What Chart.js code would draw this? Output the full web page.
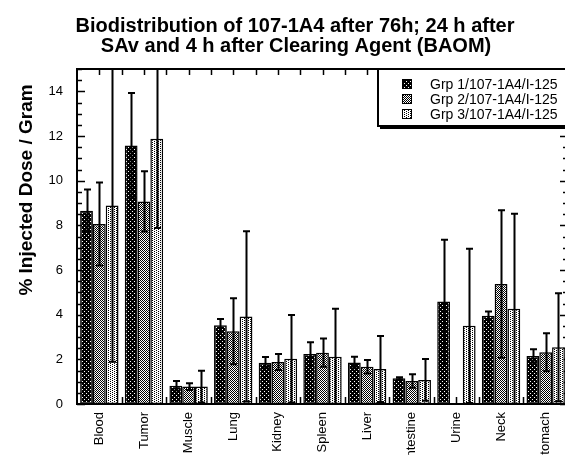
<!DOCTYPE html>
<html>
<head>
<meta charset="utf-8">
<script src="https://cdn.jsdelivr.net/npm/chart.js@4.4.1/dist/chart.umd.min.js"></script>
<style>
  html, body { margin: 0; padding: 0; background: #fff; overflow: hidden; }
  .wrap { width: 565px; height: 455px; overflow: hidden; }
  canvas { display: block; }
</style>
</head>
<body>
<div class="wrap"><canvas id="chart" width="572" height="455"></canvas></div>
<script>
// Chart data
const titleLines = ['Biodistribution of 107-1A4 after 76h; 24 h after', 'SAv and 4 h after Clearing Agent (BAOM)'];
const yTitle = '% Injected Dose / Gram';
const organs = ['Blood', 'Tumor', 'Muscle', 'Lung', 'Kidney', 'Spleen', 'Liver', 'Intestine', 'Urine', 'Neck', 'Stomach'];
const yTicks = [0, 2, 4, 6, 8, 10, 12, 14];
const groupNames = ['Grp 1/107-1A4/I-125', 'Grp 2/107-1A4/I-125', 'Grp 3/107-1A4/I-125'];

const grp1    = [8.65, 11.57, 0.82, 3.53, 1.85, 2.24, 1.86, 1.15, 4.59, 3.95, 2.15];
const grp1Err = [0.95, 2.36, 0.21, 0.28, 0.25, 0.53, 0.26, 0.05, 2.76, 0.19, 0.30];
const grp2    = [8.06, 9.07, 0.78, 3.26, 1.88, 2.30, 1.67, 1.03, null, 5.37, 2.32];
const grp2Err = [1.86, 1.35, 0.15, 1.48, 0.36, 0.63, 0.30, 0.30, null, 3.30, 0.85];
const grp3    = [8.89, 11.88, 0.78, 3.92, 2.03, 2.12, 1.57, 1.08, 3.50, 4.26, 2.54];
const grp3Err = [7.00, 4.00, 0.71, 3.81, 1.96, 2.14, 1.48, 0.94, 3.45, 4.26, 2.42];

const FONT = '"Liberation Sans", Arial, Helvetica, sans-serif';
Chart.defaults.font.family = FONT;
Chart.defaults.color = '#000';

const canvas = document.getElementById('chart');
const mainCtx = canvas.getContext('2d');

// small bitmap tiles for the stipple fills
function makePattern(rows) {
  const tile = document.createElement('canvas');
  tile.width = rows[0].length;
  tile.height = rows.length;
  const g = tile.getContext('2d');
  g.fillStyle = '#fff';
  g.fillRect(0, 0, tile.width, tile.height);
  g.fillStyle = '#000';
  rows.forEach((r, y) => {
    [...r].forEach((ch, x) => { if (ch === '1') g.fillRect(x, y, 1, 1); });
  });
  return mainCtx.createPattern(tile, 'repeat');
}

const fills = [
  makePattern(['1111', '1101', '1111', '0111']),
  makePattern(['10', '01']),
  makePattern(['1000', '0010'])
];

// error bars drawn on top of the bars, clipped to the plot
const errorBars = {
  id: 'errorBars',
  afterDatasetsDraw(chart) {
    const { ctx, chartArea: a, scales: { y } } = chart;
    ctx.save();
    ctx.beginPath();
    ctx.rect(a.left, a.top, a.right - a.left, a.bottom - a.top);
    ctx.clip();
    ctx.strokeStyle = '#000';
    ctx.lineWidth = 2;
    chart.data.datasets.forEach((ds, i) => {
      const meta = chart.getDatasetMeta(i);
      meta.data.forEach((bar, j) => {
        const v = ds.data[j], e = ds.errors[j];
        if (v == null || e == null) return;
        const x = Math.round(bar.x) + 0.5;
        const hi = y.getPixelForValue(v + e);
        const lo = y.getPixelForValue(Math.max(v - e, 0));
        ctx.beginPath();
        ctx.moveTo(x, hi);
        ctx.lineTo(x, lo);
        ctx.moveTo(x - 3.5, hi);
        ctx.lineTo(x + 3.5, hi);
        if (v - e > 0) {
          ctx.moveTo(x - 3.5, lo);
          ctx.lineTo(x + 3.5, lo);
        }
        ctx.stroke();
      });
    });
    ctx.restore();
  }
};

// inward ticks on all four sides plus the frame
const frame = {
  id: 'frame',
  beforeDatasetsDraw(chart) {
    const { ctx, chartArea: a, scales: { x, y } } = chart;
    ctx.save();
    ctx.strokeStyle = '#000';
    ctx.lineWidth = 1.5;
    ctx.beginPath();
    for (let v = 0; v <= 15; v += 0.5) {
      const py = Math.round(y.getPixelForValue(v)) + 0.5;
      const len = v % 2 === 0 ? 8 : 5;
      ctx.moveTo(a.left, py); ctx.lineTo(a.left + len, py);
      ctx.moveTo(a.right, py); ctx.lineTo(a.right - len, py);
    }
    const step = (a.right - a.left) / organs.length / 2;
    for (let k = 1; k < organs.length * 2; k++) {
      const px = Math.round(a.left + k * step) + 0.5;
      ctx.moveTo(px, a.top); ctx.lineTo(px, a.top + 6);
      ctx.moveTo(px, a.bottom); ctx.lineTo(px, a.bottom - 7);
    }
    ctx.stroke();
    ctx.restore();
  },
  afterDatasetsDraw(chart) {
    const { ctx, chartArea: a } = chart;
    ctx.save();
    ctx.strokeStyle = '#000';
    ctx.lineWidth = 2;
    ctx.strokeRect(a.left, a.top, a.right - a.left, a.bottom - a.top);
    ctx.restore();
  }
};

// titles and boxed legend
const annotations = {
  id: 'annotations',
  afterDraw(chart) {
    const { ctx } = chart;
    ctx.save();
    ctx.fillStyle = '#000';
    ctx.font = 'bold 20px ' + FONT;
    ctx.textAlign = 'center';
    ctx.textBaseline = 'alphabetic';
    ctx.fillText(titleLines[0], 295, 32);
    ctx.fillText(titleLines[1], 296, 52);

    ctx.save();
    ctx.translate(32, 190);
    ctx.rotate(-Math.PI / 2);
    ctx.font = 'bold 19px ' + FONT;
    ctx.fillText(yTitle, 0, 0);
    ctx.restore();

    // legend box with drop shadow
    const bx = 378, by = 69, bw = 200, bh = 57;
    ctx.fillStyle = '#000';
    ctx.fillRect(bx + 2, by + bh, bw, 3);
    ctx.fillStyle = '#fff';
    ctx.fillRect(bx, by, bw, bh);
    ctx.strokeStyle = '#000';
    ctx.lineWidth = 2;
    ctx.strokeRect(bx, by, bw, bh);

    ctx.font = '14px ' + FONT;
    ctx.textAlign = 'left';
    ctx.textBaseline = 'middle';
    chart.data.datasets.forEach((ds, i) => {
      const ry = 84 + i * 15;
      ctx.fillStyle = ds.backgroundColor;
      ctx.fillRect(402, ry - 5, 10, 10);
      ctx.lineWidth = 1;
      ctx.strokeStyle = '#000';
      ctx.strokeRect(402.5, ry - 4.5, 9, 9);
      ctx.fillStyle = '#000';
      ctx.fillText(ds.label, 430, ry + 1);
    });
    ctx.restore();
  }
};

const series = [grp1, grp2, grp3];
const errors = [grp1Err, grp2Err, grp3Err];

new Chart(mainCtx, {
  type: 'bar',
  data: {
    labels: organs,
    datasets: series.map((d, i) => ({
      label: groupNames[i],
      data: d,
      errors: errors[i],
      backgroundColor: fills[i],
      borderColor: '#000',
      borderWidth: 1.5,
      borderSkipped: false,
      categoryPercentage: 0.86,
      barPercentage: 1.0
    }))
  },
  options: {
    responsive: false,
    animation: false,
    events: [],
    layout: { padding: { top: 69, right: 4, left: 0, bottom: 0 } },
    plugins: {
      legend: { display: false },
      title: { display: false },
      tooltip: { enabled: false }
    },
    scales: {
      x: {
        grid: { display: false, drawTicks: false },
        border: { display: false },
        ticks: {
          autoSkip: false,
          minRotation: 90,
          maxRotation: 90,
          padding: 8,
          font: { size: 13 }
        },
        afterFit: s => { s.height = 51; }
      },
      y: {
        min: 0,
        max: 15,
        grid: { display: false, drawTicks: false },
        border: { display: false },
        ticks: { padding: 14, font: { size: 13 } },
        afterBuildTicks: s => { s.ticks = yTicks.map(v => ({ value: v })); },
        afterFit: s => { s.width = 77; }
      }
    }
  },
  plugins: [frame, errorBars, annotations]
});
</script>
</body>
</html>
